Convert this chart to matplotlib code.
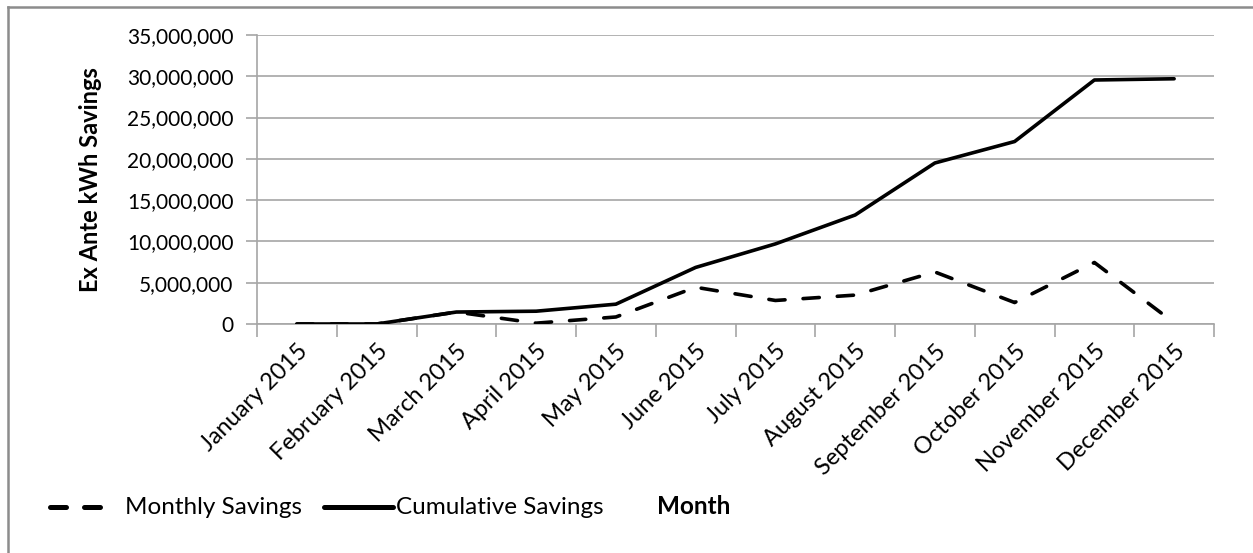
import matplotlib.pyplot as plt
from matplotlib.lines import Line2D
from matplotlib.ticker import FuncFormatter, FixedLocator

plt.rcParams['font.family'] = ['Lato', 'DejaVu Sans']

months = ['January 2015', 'February 2015', 'March 2015', 'April 2015', 'May 2015',
          'June 2015', 'July 2015', 'August 2015', 'September 2015', 'October 2015',
          'November 2015', 'December 2015']
monthly = [0, 0, 1450000, 100000, 850000, 4450000, 2850000, 3500000,
           6300000, 2600000, 7450000, 150000]
cumulative = [0, 0, 1450000, 1550000, 2400000, 6850000, 9700000, 13200000,
              19500000, 22100000, 29550000, 29700000]

W, H = 1253, 553
fig = plt.figure(figsize=(W / 100, H / 100), dpi=100)
ax = fig.add_axes([257 / W, 1 - 324 / H, (1214 - 257) / W, (324 - 35) / H])

x = list(range(len(months)))
ax.plot(x, monthly, color='black', lw=2.6, dashes=(4.5, 5), dash_capstyle='round',
        label='Monthly Savings', zorder=3)
ax.plot(x, cumulative, color='black', lw=2.6, solid_capstyle='round',
        label='Cumulative Savings', zorder=4)

ax.set_xlim(-0.5, len(months) - 0.5)
ax.set_ylim(0, 35000000)
ax.set_yticks(range(0, 35000001, 5000000))
ax.yaxis.set_major_formatter(FuncFormatter(lambda v, p: f'{int(v):,}'))
ax.yaxis.grid(True, color='#a6a6a6', lw=1.2)
ax.set_axisbelow(True)

# category ticks sit on the boundaries, labels on the centres
ax.set_xticks([i - 0.5 for i in range(len(months) + 1)])
ax.set_xticklabels([])
ax.xaxis.set_minor_locator(FixedLocator(x))
ax.set_xticklabels(months, minor=True, rotation=45, ha='right', va='top',
                   rotation_mode='anchor', fontsize=17)
ax.tick_params(axis='x', which='minor', length=0, pad=12)
ax.tick_params(axis='x', which='major', length=9, color='#a6a6a6', width=1.2)
ax.tick_params(axis='y', length=8, color='#a6a6a6', width=1.2, labelsize=15, pad=9)

for s in ['top', 'right']:
    ax.spines[s].set_visible(False)
for s in ['left', 'bottom']:
    ax.spines[s].set_color('#a6a6a6')
    ax.spines[s].set_linewidth(1.2)

ax.set_ylabel('Ex Ante kWh Savings', fontsize=17, fontweight='bold', labelpad=18)

# legend row along the bottom, with the x axis title beside it
ly = 1 - 507 / H
fig.add_artist(Line2D([50 / W, 102 / W], [ly, ly], color='black', lw=3.6,
                      dashes=(3.2, 3.6), dash_capstyle='round'))
fig.text(125 / W, ly, 'Monthly Savings', fontsize=17.5, va='center')
fig.add_artist(Line2D([324 / W, 393 / W], [ly, ly], color='black', lw=3.6,
                      solid_capstyle='round'))
fig.text(396 / W, ly, 'Cumulative Savings', fontsize=17.5, va='center')
fig.text(657 / W, ly, 'Month', fontsize=17.5, fontweight='bold', va='center')

# chart area frame (top and left edges)
fig.add_artist(Line2D([8 / W, 8 / W], [0, 1 - 7 / H], color='#8c8c8c', lw=1.8))
fig.add_artist(Line2D([8 / W, 1], [1 - 7 / H, 1 - 7 / H], color='#8c8c8c', lw=1.8))

fig.savefig('out.png', dpi=100)
